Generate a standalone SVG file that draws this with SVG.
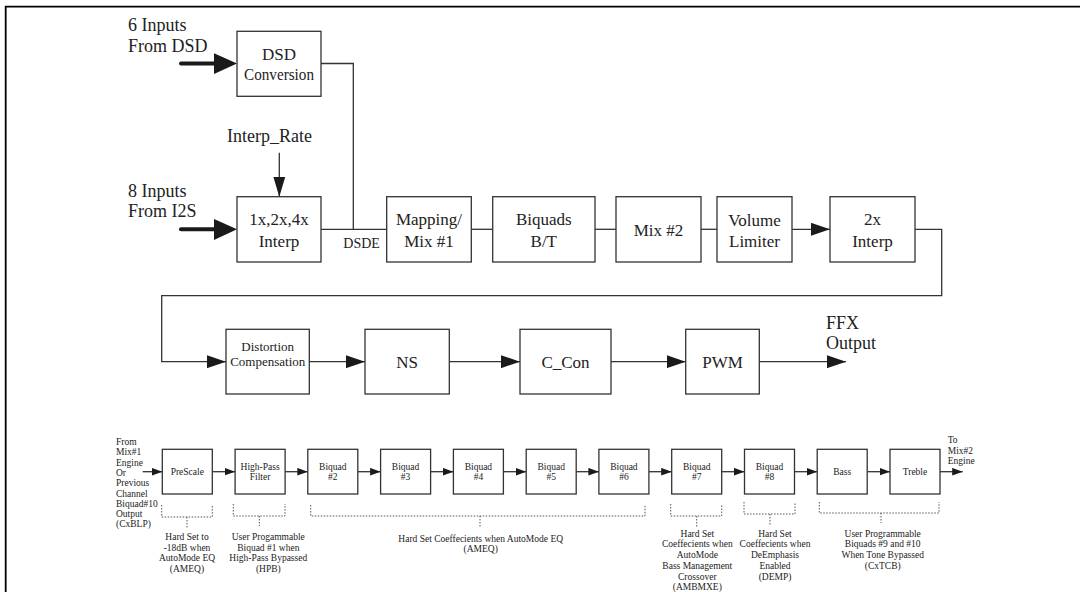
<svg xmlns="http://www.w3.org/2000/svg" width="1080" height="592" viewBox="0 0 1080 592">
<defs>
<style>
.frame{stroke:#000;stroke-width:1.8;fill:none}
.box{fill:#fff;stroke:#333;stroke-width:1.3}
.ln{fill:none;stroke:#333;stroke-width:1.3}
.thick{fill:none;stroke:#1a1a1a;stroke-width:4;stroke-linecap:round}
.dot{fill:none;stroke:#555;stroke-width:1;stroke-dasharray:1.5 1.5}
text{font-family:"Liberation Serif","Times New Roman",serif;fill:#222}
.lab{font-size:18px}
.bt{font-size:17px;text-anchor:middle}
.sm{font-size:13px;text-anchor:middle}
.tiny{font-size:9.5px;text-anchor:middle}
.tl{font-size:9.5px}
</style>
<marker id="arr" markerUnits="userSpaceOnUse" markerWidth="19" markerHeight="13" refX="19" refY="6.5" orient="auto"><path d="M0,0 L19,6.5 L0,13 z" fill="#1a1a1a"/></marker>
<marker id="arrS" markerUnits="userSpaceOnUse" markerWidth="11" markerHeight="8" refX="10.5" refY="3.8" orient="auto"><path d="M0,0 L10.5,3.8 L0,7.6 z" fill="#1a1a1a"/></marker>
<marker id="arrV" markerUnits="userSpaceOnUse" markerWidth="20" markerHeight="12" refX="20" refY="6" orient="auto"><path d="M0,0 L20,6 L0,12 z" fill="#1a1a1a"/></marker>
</defs>
<rect width="1080" height="592" fill="#fff"/>
<path class="frame" d="M5.7,592 V6.7 H1080"/>

<g id="connectors">
<line class="thick" x1="181" y1="63.5" x2="216" y2="63.5"/>
<polygon points="214,53.3 237,63.5 214,74" fill="#1a1a1a"/>
<line class="thick" x1="181" y1="229.3" x2="216" y2="229.3"/>
<polygon points="214,219 237,229.3 214,240" fill="#1a1a1a"/>
<line class="ln" x1="279.3" y1="152.7" x2="279.3" y2="196.7" marker-end="url(#arrV)"/>
<path class="ln" d="M321,63.5 H353.3 V229.3"/>
<line class="ln" x1="321" y1="229.3" x2="386.7" y2="229.3"/>
<line class="ln" x1="471.3" y1="229.3" x2="492.7" y2="229.3"/>
<line class="ln" x1="595" y1="229.3" x2="616" y2="229.3"/>
<line class="ln" x1="701" y1="229.3" x2="717" y2="229.3"/>
<line class="ln" x1="792" y1="229.3" x2="830" y2="229.3" marker-end="url(#arr)"/>
<path class="ln" d="M915,229.3 H941.7 V295.7 H161.7 V361.7 H226" marker-end="url(#arr)"/>
<line class="ln" x1="309.3" y1="361.7" x2="365" y2="361.7" marker-end="url(#arr)"/>
<line class="ln" x1="449.3" y1="361.7" x2="520" y2="361.7" marker-end="url(#arr)"/>
<line class="ln" x1="611" y1="361.7" x2="685.7" y2="361.7" marker-end="url(#arr)"/>
<line class="ln" x1="759.3" y1="361.7" x2="846" y2="361.7" marker-end="url(#arr)"/>

<line class="ln" x1="142.7" y1="471.7" x2="162.3" y2="471.7" marker-end="url(#arrS)"/>
<line class="ln" x1="212.3" y1="471.7" x2="235.1" y2="471.7" marker-end="url(#arrS)"/>
<line class="ln" x1="285.1" y1="471.7" x2="307.8" y2="471.7" marker-end="url(#arrS)"/>
<line class="ln" x1="357.8" y1="471.7" x2="380.6" y2="471.7" marker-end="url(#arrS)"/>
<line class="ln" x1="430.6" y1="471.7" x2="453.4" y2="471.7" marker-end="url(#arrS)"/>
<line class="ln" x1="503.4" y1="471.7" x2="526.2" y2="471.7" marker-end="url(#arrS)"/>
<line class="ln" x1="576.2" y1="471.7" x2="598.9" y2="471.7" marker-end="url(#arrS)"/>
<line class="ln" x1="648.9" y1="471.7" x2="671.7" y2="471.7" marker-end="url(#arrS)"/>
<line class="ln" x1="721.7" y1="471.7" x2="744.5" y2="471.7" marker-end="url(#arrS)"/>
<line class="ln" x1="794.5" y1="471.7" x2="817.2" y2="471.7" marker-end="url(#arrS)"/>
<line class="ln" x1="867.2" y1="471.7" x2="890" y2="471.7" marker-end="url(#arrS)"/>
<line class="ln" x1="940" y1="471.7" x2="962.7" y2="471.7" marker-end="url(#arrS)"/>

<path class="dot" d="M161.7,505 V517 H212.3 V505 M187,517 V528"/>
<path class="dot" d="M233.3,504 V516 H285 V504 M259.3,516 V526"/>
<path class="dot" d="M310.7,505 V516 H645 V505 M480,516 V528"/>
<path class="dot" d="M670.7,504 V516 H721.7 V504 M696.7,516 V527"/>
<path class="dot" d="M744,502 V514 H795 V502 M770,514 V525"/>
<path class="dot" d="M819.3,502 V513 H939 V502 M881,513 V523"/>
</g>

<g id="labels">
<text class="lab" x="128" y="31">6 Inputs</text>
<text class="lab" x="128" y="52">From DSD</text>
<text class="lab" x="128" y="197">8 Inputs</text>
<text class="lab" x="128" y="217">From I2S</text>
<text class="lab" x="227" y="142">Interp_Rate</text>
<text x="343.3" y="248" font-size="14">DSDE</text>
<text class="lab" x="826" y="329.3">FFX</text>
<text class="lab" x="826" y="348.5">Output</text>
<g class="tl">
<text x="116" y="445">From</text>
<text x="116" y="455.3">Mix#1</text>
<text x="116" y="465.6">Engine</text>
<text x="116" y="475.9">Or</text>
<text x="116" y="486.2">Previous</text>
<text x="116" y="496.5">Channel</text>
<text x="116" y="506.8">Biquad#10</text>
<text x="116" y="517.1">Output</text>
<text x="116" y="527.4">(CxBLP)</text>
<text x="947.7" y="442.7">To</text>
<text x="947.7" y="453.5">Mix#2</text>
<text x="947.7" y="464.3">Engine</text>
</g>
<g class="tiny">
<text x="187" y="540">Hard Set to</text>
<text x="187" y="550.5">-18dB when</text>
<text x="187" y="561">AutoMode EQ</text>
<text x="187" y="571.5">(AMEQ)</text>
<text x="268.3" y="540">User Progammable</text>
<text x="268.3" y="550.5">Biquad #1 when</text>
<text x="268.3" y="561">High-Pass Bypassed</text>
<text x="268.3" y="571.5">(HPB)</text>
<text x="480.7" y="541.7">Hard Set Coeffecients when AutoMode EQ</text>
<text x="480.7" y="552">(AMEQ)</text>
<text x="697.3" y="536.7">Hard Set</text>
<text x="697.3" y="547.4">Coeffecients when</text>
<text x="697.3" y="558.1">AutoMode</text>
<text x="697.3" y="568.8">Bass Management</text>
<text x="697.3" y="579.5">Crossover</text>
<text x="697.3" y="590.2">(AMBMXE)</text>
<text x="775" y="536.7">Hard Set</text>
<text x="775" y="547.4">Coeffecients when</text>
<text x="775" y="558.1">DeEmphasis</text>
<text x="775" y="568.8">Enabled</text>
<text x="775" y="579.5">(DEMP)</text>
<text x="882.7" y="536.7">User Programmable</text>
<text x="882.7" y="547.4">Biquads #9 and #10</text>
<text x="882.7" y="558.1">When Tone Bypassed</text>
<text x="882.7" y="568.8">(CxTCB)</text>
</g>
</g>

<g id="n-dsd"><rect class="box" x="237" y="31.3" width="84" height="65"/><text class="bt" x="279" y="60">DSD</text><text class="bt" x="279" y="80" textLength="70" lengthAdjust="spacingAndGlyphs">Conversion</text></g>
<g id="n-interp"><rect class="box" x="237" y="196.7" width="84" height="65.3"/><text class="bt" x="279" y="225">1x,2x,4x</text><text class="bt" x="279" y="246.7">Interp</text></g>
<g id="n-mapping"><rect class="box" x="386.7" y="196.7" width="84.6" height="65.3"/><text class="bt" x="429" y="225">Mapping/</text><text class="bt" x="429" y="246.7">Mix #1</text></g>
<g id="n-biquads"><rect class="box" x="492.7" y="196.7" width="102.3" height="65.3"/><text class="bt" x="543.8" y="225">Biquads</text><text class="bt" x="543.8" y="246.7">B/T</text></g>
<g id="n-mix2"><rect class="box" x="616" y="196.7" width="85" height="65.3"/><text class="bt" x="658.5" y="236">Mix #2</text></g>
<g id="n-volume"><rect class="box" x="717" y="196.7" width="75" height="65.3"/><text class="bt" x="754.5" y="226">Volume</text><text class="bt" x="754.5" y="247">Limiter</text></g>
<g id="n-2xinterp"><rect class="box" x="830" y="196.7" width="85" height="65.3"/><text class="bt" x="872.5" y="225">2x</text><text class="bt" x="872.5" y="246.7">Interp</text></g>
<g id="n-distortion"><rect class="box" x="226" y="329.3" width="83.3" height="64.7"/><text class="sm" x="267.7" y="350.7">Distortion</text><text class="sm" x="267.7" y="366">Compensation</text></g>
<g id="n-ns"><rect class="box" x="365" y="329.3" width="84.3" height="64.7"/><text class="bt" x="407.2" y="368">NS</text></g>
<g id="n-ccon"><rect class="box" x="520" y="329.3" width="91" height="64.7"/><text class="bt" x="565.5" y="368">C_Con</text></g>
<g id="n-pwm"><rect class="box" x="685.7" y="329.3" width="73.6" height="64.7"/><text class="bt" x="722.5" y="368">PWM</text></g>

<g id="n-prescale"><rect class="box" x="162.3" y="449.3" width="50" height="44.7"/><text class="tiny" x="187.3" y="475">PreScale</text></g>
<g id="n-highpass"><rect class="box" x="235.1" y="449.3" width="50" height="44.7"/><text class="tiny" x="260.1" y="470">High-Pass</text><text class="tiny" x="260.1" y="480">Filter</text></g>
<g id="n-bq2"><rect class="box" x="307.8" y="449.3" width="50" height="44.7"/><text class="tiny" x="332.8" y="470">Biquad</text><text class="tiny" x="332.8" y="480">#2</text></g>
<g id="n-bq3"><rect class="box" x="380.6" y="449.3" width="50" height="44.7"/><text class="tiny" x="405.6" y="470">Biquad</text><text class="tiny" x="405.6" y="480">#3</text></g>
<g id="n-bq4"><rect class="box" x="453.4" y="449.3" width="50" height="44.7"/><text class="tiny" x="478.4" y="470">Biquad</text><text class="tiny" x="478.4" y="480">#4</text></g>
<g id="n-bq5"><rect class="box" x="526.2" y="449.3" width="50" height="44.7"/><text class="tiny" x="551.2" y="470">Biquad</text><text class="tiny" x="551.2" y="480">#5</text></g>
<g id="n-bq6"><rect class="box" x="598.9" y="449.3" width="50" height="44.7"/><text class="tiny" x="623.9" y="470">Biquad</text><text class="tiny" x="623.9" y="480">#6</text></g>
<g id="n-bq7"><rect class="box" x="671.7" y="449.3" width="50" height="44.7"/><text class="tiny" x="696.7" y="470">Biquad</text><text class="tiny" x="696.7" y="480">#7</text></g>
<g id="n-bq8"><rect class="box" x="744.5" y="449.3" width="50" height="44.7"/><text class="tiny" x="769.5" y="470">Biquad</text><text class="tiny" x="769.5" y="480">#8</text></g>
<g id="n-bass"><rect class="box" x="817.2" y="449.3" width="50" height="44.7"/><text class="tiny" x="842.2" y="475">Bass</text></g>
<g id="n-treble"><rect class="box" x="890" y="449.3" width="50" height="44.7"/><text class="tiny" x="915" y="475">Treble</text></g>
</svg>
